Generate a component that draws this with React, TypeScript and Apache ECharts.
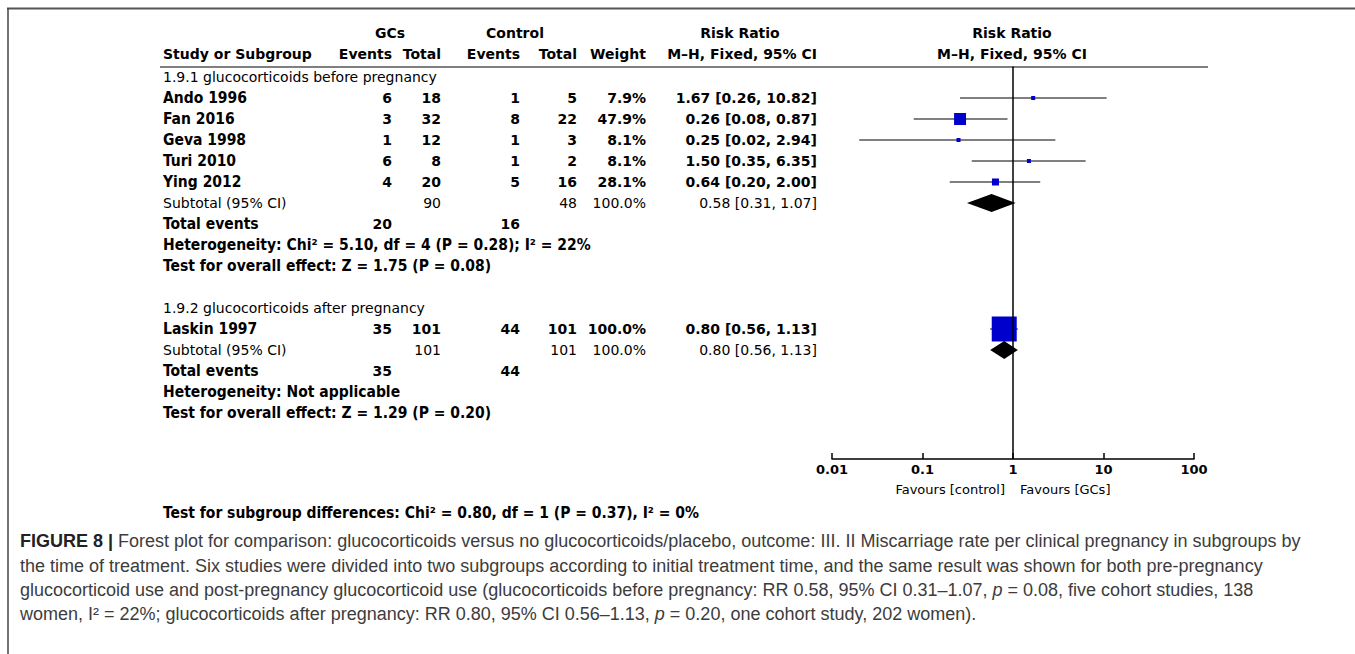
import React, { useEffect, useRef } from "react";
import * as echarts from "echarts";

// ---------------- data ----------------
const groupTitles = ["1.9.1 glucocorticoids before pregnancy", "1.9.2 glucocorticoids after pregnancy"];
const studyNames = [["Ando 1996", "Fan 2016", "Geva 1998", "Turi 2010", "Ying 2012"], ["Laskin 1997"]];
const gcEvents = [[6, 3, 1, 6, 4], [35]];
const gcTotals = [[18, 32, 12, 8, 20], [101]];
const ctlEvents = [[1, 8, 1, 1, 5], [44]];
const ctlTotals = [[5, 22, 3, 2, 16], [101]];
const weights = [[7.9, 47.9, 8.1, 8.1, 28.1], [100.0]];
const riskRatios = [[1.67, 0.26, 0.25, 1.5, 0.64], [0.8]];
const ciLower = [[0.26, 0.08, 0.02, 0.35, 0.2], [0.56]];
const ciUpper = [[10.82, 0.87, 2.94, 6.35, 2.0], [1.13]];
const subtotalGcTotal = [90, 101];
const subtotalCtlTotal = [48, 101];
const subtotalWeight = [100.0, 100.0];
const subtotalRR = [0.58, 0.8];
const subtotalLower = [0.31, 0.56];
const subtotalUpper = [1.07, 1.13];
const totalGcEvents = [20, 35];
const totalCtlEvents = [16, 44];
const heterogeneity = [
  "Heterogeneity: Chi² = 5.10, df = 4 (P = 0.28); I² = 22%",
  "Heterogeneity: Not applicable",
];
const overallEffect = [
  "Test for overall effect: Z = 1.75 (P = 0.08)",
  "Test for overall effect: Z = 1.29 (P = 0.20)",
];
const subgroupTest = "Test for subgroup differences: Chi² = 0.80, df = 1 (P = 0.37), I² = 0%";
const axisTicks = [0.01, 0.1, 1, 10, 100];
const favoursLeft = "Favours [control]";
const favoursRight = "Favours [GCs]";
const captionLines = [
  "{b|FIGURE 8 |} Forest plot for comparison: glucocorticoids versus no glucocorticoids/placebo, outcome: III. II Miscarriage rate per clinical pregnancy in subgroups by",
  "the time of treatment. Six studies were divided into two subgroups according to initial treatment time, and the same result was shown for both pre-pregnancy",
  "glucocorticoid use and post-pregnancy glucocorticoid use (glucocorticoids before pregnancy: RR 0.58, 95% CI 0.31–1.07, {i|p} = 0.08, five cohort studies, 138",
  "women, I² = 22%; glucocorticoids after pregnancy: RR 0.80, 95% CI 0.56–1.13, {i|p} = 0.20, one cohort study, 202 women).",
];

// ---------------- layout ----------------
const W = 1355;
const H = 654;
const X_STUDY = 163;
const X_GC_EV = 392;
const X_GC_TOT = 441;
const X_CT_EV = 520;
const X_CT_TOT = 577;
const X_WEIGHT = 646;
const X_CI = 817;
const GC_CENTER = 390;
const CT_CENTER = 515;
const PLOT_L = 832;
const PLOT_R = 1194;
const PLOT_MID = 1012;
const AXIS_Y = 459;
const ROW0 = 77;
const ROW_H = 21;
const HEAD1_Y = 33;
const HEAD2_Y = 54;
const RULE_Y = 67;

const FONT = '"DejaVu Sans", sans-serif';
const FONT_C = '"DejaVu Sans Condensed", "DejaVu Sans", sans-serif';
const CAP_FONT = '"Liberation Sans", Arial, sans-serif';
const FS = 14;
const FS_C = 15.5;
const CAP_FS = 18;

function txt(text: string, x: number, y: number, align: string, weight: string, family: string, size: number, fill = "#000") {
  return {
    type: "text",
    x,
    y,
    silent: true,
    style: {
      text,
      fontSize: size,
      fontFamily: family,
      fontWeight: weight,
      fill,
      align,
      textAlign: align,
      verticalAlign: "middle",
      textVerticalAlign: "middle",
    },
  };
}

const fmt2 = (v: number) => v.toFixed(2);
const ciText = (r: number, l: number, u: number) => `${fmt2(r)} [${fmt2(l)}, ${fmt2(u)}]`;

export default function App() {
  const ref = useRef<HTMLDivElement>(null);
  useEffect(() => {
    document.body.style.margin = "0";
    const chart = echarts.init(ref.current!, null, { renderer: "svg" });
    const slotY = (s: number) => ROW0 + s * ROW_H;

    const g: any[] = [];
    const ciData: any[] = [];
    const sqData: any[] = [];
    const diaData: any[] = [];

    // borders & rules
    g.push({ type: "line", silent: true, shape: { x1: 7, y1: 8.5, x2: W, y2: 8.5 }, style: { stroke: "#555", lineWidth: 2 } });
    g.push({ type: "line", silent: true, shape: { x1: 8, y1: 8, x2: 8, y2: H }, style: { stroke: "#444", lineWidth: 1.5 } });
    g.push({ type: "line", silent: true, shape: { x1: 160, y1: RULE_Y, x2: 1208, y2: RULE_Y }, style: { stroke: "#000", lineWidth: 1.2 } });

    // headers
    g.push(txt("GCs", GC_CENTER, HEAD1_Y, "center", "bold", FONT, FS));
    g.push(txt("Control", CT_CENTER, HEAD1_Y, "center", "bold", FONT, FS));
    g.push(txt("Risk Ratio", X_CI - 77, HEAD1_Y, "center", "bold", FONT, FS));
    g.push(txt("Risk Ratio", PLOT_MID, HEAD1_Y, "center", "bold", FONT, FS));
    g.push(txt("Study or Subgroup", X_STUDY, HEAD2_Y, "left", "bold", FONT, FS));
    g.push(txt("Events", X_GC_EV, HEAD2_Y, "right", "bold", FONT, FS));
    g.push(txt("Total", X_GC_TOT, HEAD2_Y, "right", "bold", FONT, FS));
    g.push(txt("Events", X_CT_EV, HEAD2_Y, "right", "bold", FONT, FS));
    g.push(txt("Total", X_CT_TOT, HEAD2_Y, "right", "bold", FONT, FS));
    g.push(txt("Weight", X_WEIGHT, HEAD2_Y, "right", "bold", FONT, FS));
    g.push(txt("M–H, Fixed, 95% CI", X_CI, HEAD2_Y, "right", "bold", FONT, FS));
    g.push(txt("M–H, Fixed, 95% CI", PLOT_MID, HEAD2_Y, "center", "bold", FONT, FS));

    let s = 0;
    groupTitles.forEach((title, gi) => {
      g.push(txt(title, X_STUDY, slotY(s), "left", "normal", FONT, FS));
      s++;
      studyNames[gi].forEach((name, i) => {
        const y = slotY(s);
        g.push(txt(name, X_STUDY, y, "left", "bold", FONT_C, FS_C));
        g.push(txt(String(gcEvents[gi][i]), X_GC_EV, y, "right", "bold", FONT, FS));
        g.push(txt(String(gcTotals[gi][i]), X_GC_TOT, y, "right", "bold", FONT, FS));
        g.push(txt(String(ctlEvents[gi][i]), X_CT_EV, y, "right", "bold", FONT, FS));
        g.push(txt(String(ctlTotals[gi][i]), X_CT_TOT, y, "right", "bold", FONT, FS));
        g.push(txt(`${weights[gi][i].toFixed(1)}%`, X_WEIGHT, y, "right", "bold", FONT, FS));
        g.push(txt(ciText(riskRatios[gi][i], ciLower[gi][i], ciUpper[gi][i]), X_CI, y, "right", "bold", FONT, FS));
        ciData.push([ciLower[gi][i], ciUpper[gi][i], s]);
        sqData.push([riskRatios[gi][i], s, weights[gi][i]]);
        s++;
      });
      // subtotal
      let y = slotY(s);
      g.push(txt("Subtotal (95% CI)", X_STUDY, y, "left", "normal", FONT, FS));
      g.push(txt(String(subtotalGcTotal[gi]), X_GC_TOT, y, "right", "normal", FONT, FS));
      g.push(txt(String(subtotalCtlTotal[gi]), X_CT_TOT, y, "right", "normal", FONT, FS));
      g.push(txt(`${subtotalWeight[gi].toFixed(1)}%`, X_WEIGHT, y, "right", "normal", FONT, FS));
      g.push(txt(ciText(subtotalRR[gi], subtotalLower[gi], subtotalUpper[gi]), X_CI, y, "right", "normal", FONT, FS));
      diaData.push([subtotalLower[gi], subtotalRR[gi], subtotalUpper[gi], s]);
      s++;
      y = slotY(s);
      g.push(txt("Total events", X_STUDY, y, "left", "bold", FONT_C, FS_C));
      g.push(txt(String(totalGcEvents[gi]), X_GC_EV, y, "right", "bold", FONT, FS));
      g.push(txt(String(totalCtlEvents[gi]), X_CT_EV, y, "right", "bold", FONT, FS));
      s++;
      g.push(txt(heterogeneity[gi], X_STUDY, slotY(s), "left", "bold", FONT_C, FS_C));
      s++;
      g.push(txt(overallEffect[gi], X_STUDY, slotY(s), "left", "bold", FONT_C, FS_C));
      s++;
      s++; // blank line between groups
    });

    // favours labels & subgroup test
    g.push(txt(favoursLeft, PLOT_MID - 7, 489, "right", "normal", FONT, 13));
    g.push(txt(favoursRight, PLOT_MID + 8, 489, "left", "normal", FONT, 13));
    g.push(txt(subgroupTest, X_STUDY, 513, "left", "bold", FONT_C, FS_C));

    // caption
    const capY = [541, 566, 590, 614];
    captionLines.forEach((line, i) => {
      g.push({
        type: "text",
        x: 20,
        y: capY[i],
        silent: true,
        style: {
          text: line,
          fontSize: CAP_FS,
          fontFamily: CAP_FONT,
          fontWeight: "normal",
          fill: "#3c3c3c",
          align: "left",
          textAlign: "left",
          verticalAlign: "middle",
          textVerticalAlign: "middle",
          rich: {
            b: { fontSize: CAP_FS, fontFamily: CAP_FONT, fontWeight: "bold", fill: "#222" },
            i: { fontSize: CAP_FS, fontFamily: CAP_FONT, fontStyle: "italic", fill: "#3c3c3c" },
          },
        },
      });
    });

    const option: any = {
      animation: false,
      grid: {
        left: PLOT_L,
        right: W - PLOT_R,
        top: ROW0 - ROW_H / 2,
        bottom: H - AXIS_Y,
        containLabel: false,
      },
      xAxis: {
        type: "log",
        logBase: 10,
        min: axisTicks[0],
        max: axisTicks[axisTicks.length - 1],
        axisLine: { show: true, onZero: false, lineStyle: { color: "#000", width: 1.5 } },
        axisTick: { show: true, inside: true, length: 6, lineStyle: { color: "#000", width: 1.5 } },
        axisLabel: {
          color: "#000",
          fontFamily: FONT,
          fontWeight: "bold",
          fontSize: 13,
          margin: 4,
          showMinLabel: true,
          showMaxLabel: true,
          formatter: (v: number) => {
            const t = axisTicks.find((a) => Math.abs(Math.log10(a) - Math.log10(v)) < 1e-6);
            return t === undefined ? "" : String(t);
          },
        },
        splitLine: { show: false },
        minorTick: { show: false },
      },
      yAxis: {
        type: "value",
        inverse: true,
        min: -0.5,
        max: (AXIS_Y - ROW0) / ROW_H,
        show: false,
        splitLine: { show: false },
      },
      series: [
        {
          type: "custom",
          silent: true,
          z: 1,
          encode: { x: [0, 1], y: 2 },
          data: ciData,
          renderItem: (_p: any, api: any) => {
            const a = api.coord([api.value(0), api.value(2)]);
            const b = api.coord([api.value(1), api.value(2)]);
            return {
              type: "line",
              shape: { x1: a[0], y1: a[1], x2: b[0], y2: b[1] },
              style: { stroke: "#000", lineWidth: 1 },
            };
          },
        },
        {
          type: "scatter",
          silent: true,
          z: 3,
          symbol: "rect",
          symbolSize: (v: number[]) => Math.max(4, v[2] * 0.25),
          itemStyle: { color: "#0000cd", opacity: 1 },
          data: sqData,
          markLine: {
            silent: true,
            symbol: ["none", "none"],
            label: { show: false },
            lineStyle: { color: "#000", width: 1.5, type: "solid" },
            data: [{ xAxis: 1 }],
          },
        },
        {
          type: "custom",
          silent: true,
          z: 4,
          encode: { x: [0, 1, 2], y: 3 },
          data: diaData,
          renderItem: (_p: any, api: any) => {
            const yv = api.value(3);
            const l = api.coord([api.value(0), yv]);
            const c = api.coord([api.value(1), yv]);
            const r = api.coord([api.value(2), yv]);
            const h = 9;
            return {
              type: "polygon",
              shape: { points: [[l[0], l[1]], [c[0], c[1] - h], [r[0], r[1]], [c[0], c[1] + h]] },
              style: { fill: "#000" },
            };
          },
        },
      ],
      graphic: g,
    };
    chart.setOption(option);
    return () => chart.dispose();
  }, []);
  return <div ref={ref} style={{ width: W, height: H, background: "#fff" }} />;
}
